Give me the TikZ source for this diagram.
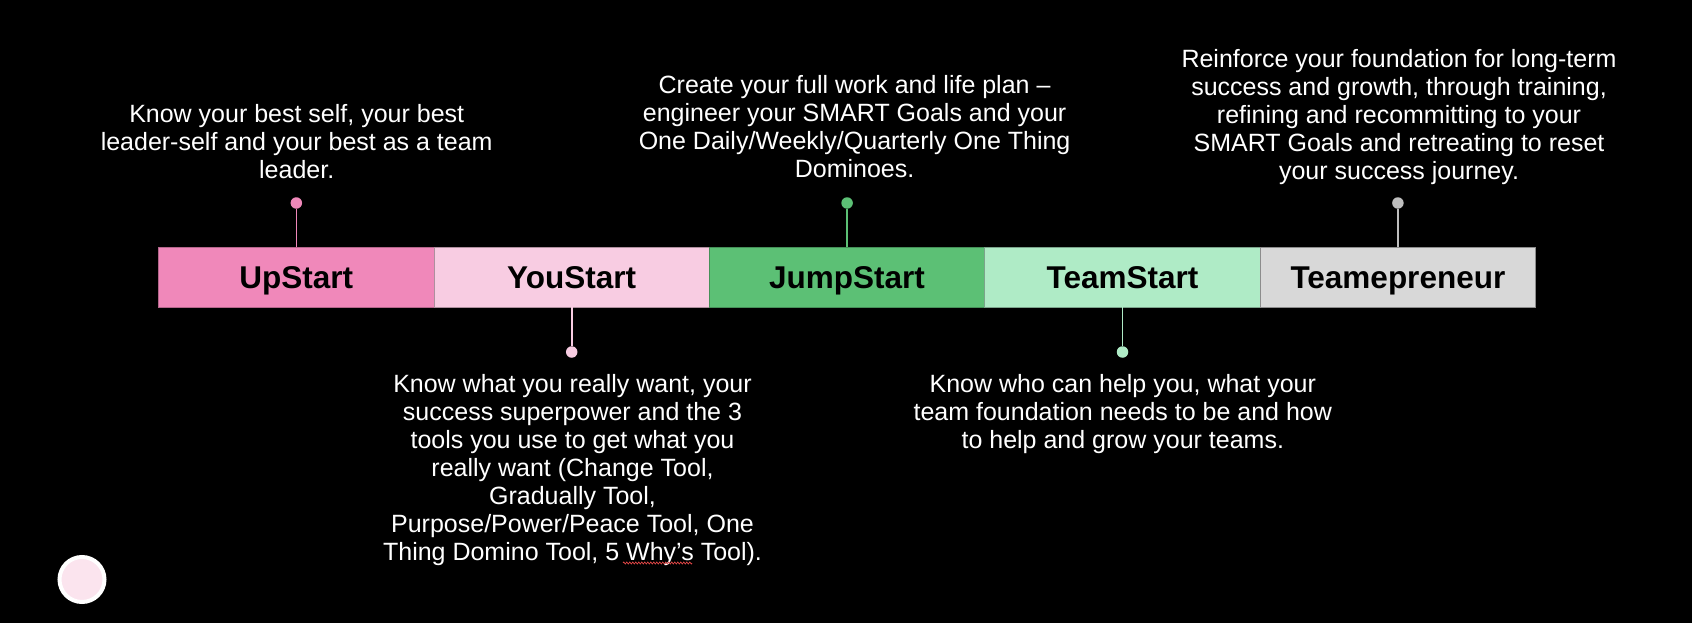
\documentclass[tikz,border=0pt]{standalone}
\usepackage{fontspec}
\setmainfont{Liberation Sans}
\usetikzlibrary{decorations.pathmorphing}
\definecolor{cA}{RGB}{240,136,186}
\definecolor{cB}{RGB}{248,204,226}
\definecolor{cC}{RGB}{92,192,117}
\definecolor{cD}{RGB}{175,235,198}
\definecolor{cE}{RGB}{216,216,216}
\definecolor{cEdot}{RGB}{190,190,190}
\definecolor{circfill}{RGB}{251,228,238}
\definecolor{squig}{RGB}{225,70,70}
\tikzset{
  seg/.style={rectangle, inner sep=0pt, outer sep=0pt, minimum width=275.4pt, minimum height=60.5pt,
    text height=23pt, text depth=0pt,
    font=\fontsize{31.5}{36}\selectfont\bfseries, text=black, line width=0.8pt},
  pindot/.style={circle, inner sep=0pt, outer sep=0pt, minimum size=11.5pt},
  pinline/.style={line width=1.6pt},
  desc/.style={align=center, text=white, inner sep=0pt, font=\fontsize{25}{28}\selectfont}
}
\begin{document}
\begin{tikzpicture}[x=1pt,y=-1pt]
\fill[black] (0,0) rectangle (1692,623);
\useasboundingbox (0,0) rectangle (1692,623);
% bar segments
\node[seg, fill=cA, draw=cA!75!black] (s1) at (296.3,277.2) {UpStart};
\node[seg, fill=cB, draw=cB!70!black] (s2) at (571.7,277.2) {YouStart};
\node[seg, fill=cC, draw=cC!75!black] (s3) at (847.1,277.2) {JumpStart};
\node[seg, fill=cD, draw=cD!70!black] (s4) at (1122.5,277.2) {TeamStart};
\node[seg, fill=cE, draw=cE!65!black] (s5) at (1397.9,277.2) {Teamepreneur};
% pin dots
\node[pindot, fill=cA] (d1) at (296.3,203) {};
\node[pindot, fill=cB] (d2) at (571.7,352) {};
\node[pindot, fill=cC] (d3) at (847.1,203) {};
\node[pindot, fill=cD] (d4) at (1122.5,352) {};
\node[pindot, fill=cEdot] (d5) at (1397.9,203) {};
% pin lines
\draw[pinline, cA] (d1) -- (s1.north);
\draw[pinline, cB] (d2) -- (s2.south);
\draw[pinline, cC] (d3) -- (s3.north);
\draw[pinline, cD] (d4) -- (s4.south);
\draw[pinline, cEdot] (d5) -- (s5.north);
% descriptions
\node[desc] (t1) at (296.7,141.4) {Know your best self, your best\\leader-self and your best as a team\\leader.};
\node[desc] (t3) at (854.6,126.8) {Create your full work and life plan –\\engineer your SMART Goals and your\\One Daily/Weekly/Quarterly One Thing\\Dominoes.};
\node[desc] (t5) at (1399,117) {Reinforce your foundation for long-term\\success and growth, through training,\\refining and recommitting to your\\SMART Goals and retreating to reset\\your success journey.};
\node[desc] (t2) at (572.5,470) {Know what you really want, your\\success superpower and the 3\\tools you use to get what you\\really want (Change Tool,\\Gradually Tool,\\Purpose/Power/Peace Tool, One\\Thing Domino Tool, 5 Why’s Tool).};
\node[desc] (t4) at (1122.8,414.4) {Know who can help you, what your\\team foundation needs to be and how\\to help and grow your teams.};
% spell-check squiggle
\coordinate (w1) at (623,563);
\coordinate (w2) at (692,563);
\draw[squig, line width=0.7pt, decorate, decoration={zigzag, amplitude=1pt, segment length=3pt}] (w1) -- (w2);
% corner circle
\node[circle, fill=circfill, draw=white, line width=4pt, minimum size=45pt, inner sep=0pt] (c0) at (82,579.5) {};
\end{tikzpicture}
\end{document}
